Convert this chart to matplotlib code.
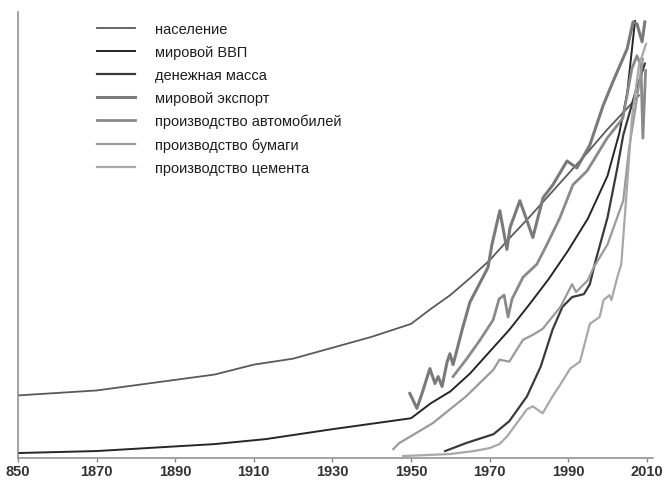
import matplotlib
matplotlib.use('Agg')
import matplotlib.pyplot as plt

plt.rcParams['font.family'] = ['Liberation Sans', 'DejaVu Sans']

# values (relative index, no units on the y axis)
pop_years = [1850, 1870, 1900, 1910, 1920, 1940, 1950, 1955, 1960, 1965, 1970, 1975,
             1980, 1985, 1990, 1995, 2000, 2005, 2008]
pop_vals = [63, 68, 84, 94, 100, 122, 135, 150, 164, 181, 199, 221,
            242, 264, 286, 308, 331, 352, 365]

gdp_years = [1850, 1870, 1900, 1913, 1930, 1950, 1955, 1960, 1965, 1970, 1975, 1980,
             1985, 1990, 1995, 2000, 2003, 2005, 2007]
gdp_vals = [5, 7, 14, 19, 29, 40, 55, 67, 85, 107, 129, 154,
            180, 209, 241, 284, 327, 367, 440]

money_years = [1958.7, 1964, 1971, 1975, 1979.5, 1983, 1986, 1988.5, 1991, 1994,
               1995.5, 1997, 2000, 2002.5, 2004, 2007, 2009.5]
money_vals = [7, 15, 24, 37, 62, 92, 129, 152, 162, 165,
              175, 199, 242, 292, 325, 367, 397]

export_years = [1949.7, 1951.5, 1952.8, 1954.8, 1956.1, 1956.9, 1957.9, 1959.2, 1959.9,
                1960.7, 1961.7, 1963, 1965, 1968.3, 1969.6, 1970.6, 1972.6, 1974.4,
                1975.2, 1977.7, 1979.5, 1981, 1983.6, 1986.1, 1989.7, 1992.2, 1995.5,
                1998.9, 2001.4, 2005, 2006.5, 2007.5, 2008.8, 2009.5]
export_vals = [65, 50, 65, 90, 75, 82, 72, 97, 105,
               94, 109, 129, 157, 182, 192, 215, 249, 210,
               232, 259, 239, 222, 262, 275, 299, 292, 315,
               355, 379, 412, 439, 437, 419, 439]

cars_years = [1960.7, 1964.2, 1967.6, 1970.9, 1972.4, 1973.7, 1974.7, 1975.7, 1978.5,
              1982, 1984.6, 1987.9, 1991.2, 1994.8, 1999.9, 2003.9, 2006.2, 2007.5,
              2008.5, 2009, 2009.7]
cars_vals = [82, 100, 119, 139, 160, 164, 142, 160, 182,
             195, 215, 242, 275, 289, 322, 342, 392, 405,
             395, 322, 390]

paper_years = [1945.5, 1947, 1955.5, 1964, 1971, 1972.5, 1975, 1978.5, 1981, 1983.5,
               1988, 1991, 1992, 1995, 1996.5, 2000, 2004, 2005.5, 2007.5, 2009]
paper_vals = [9, 15, 35, 62, 89, 99, 97, 119, 124, 130,
              152, 175, 167, 179, 192, 215, 259, 312, 362, 402]

cement_years = [1948, 1960, 1966, 1970, 1972.5, 1974.5, 1979.5, 1981, 1983.5, 1986, 1988,
                1990.5, 1993, 1995.5, 1998, 1999, 2000.5, 2001, 2002.5, 2003.5, 2005,
                2006.2, 2008, 2009.8]
cement_vals = [2, 4, 7, 10, 14, 22, 49, 52, 45, 62, 74,
               90, 97, 135, 142, 159, 164, 159, 182, 195, 275,
               342, 395, 417]

labels = ['население', 'мировой ВВП', 'денежная масса', 'мировой экспорт',
          'производство автомобилей', 'производство бумаги', 'производство цемента']
tick_years = [1850, 1870, 1890, 1910, 1930, 1950, 1970, 1990, 2010]
tick_labels = ['850', '1870', '1890', '1910', '1930', '1950', '1970', '1990', '2010']

fig = plt.figure(figsize=(6.64, 4.81), dpi=100)
ax = fig.add_axes([18/664, 1 - 459/481, 634.7/664, 446/481])

series = [
    (pop_years, pop_vals, '#5a5a5a', 1.3),
    (gdp_years, gdp_vals, '#262626', 1.4),
    (money_years, money_vals, '#3a3a3a', 1.6),
    (export_years, export_vals, '#7a7a7a', 2.2),
    (cars_years, cars_vals, '#8a8a8a', 2.0),
    (paper_years, paper_vals, '#9a9a9a', 1.6),
    (cement_years, cement_vals, '#a8a8a8', 1.6),
]
for (xs, ys, col, lw), lab in zip(series, labels):
    ax.plot(xs, ys, color=col, linewidth=lw, label=lab, solid_joinstyle='round')

ax.set_xlim(1850, 2011.5)
ax.set_ylim(0, 449)
ax.set_xticks(tick_years)
ax.set_xticklabels(tick_labels, fontsize=10.5, fontweight='bold', color='#333333')
ax.set_yticks([])
ax.tick_params(axis='x', direction='out', length=3, width=1, color='#888888', pad=1.5)
for s in ['top', 'right']:
    ax.spines[s].set_visible(False)
for s in ['left', 'bottom']:
    ax.spines[s].set_color('#8a8a8a')
    ax.spines[s].set_linewidth(1.1)

leg = ax.legend(loc='upper left', bbox_to_anchor=(97/664, 1 - 23/481),
                bbox_transform=fig.transFigure, frameon=False, fontsize=10.5,
                handlelength=2.6, handletextpad=1.37, labelspacing=0.615,
                borderpad=0, borderaxespad=0)
for t in leg.get_texts():
    t.set_color('#1e1e1e')

fig.savefig('out.png', dpi=100)
